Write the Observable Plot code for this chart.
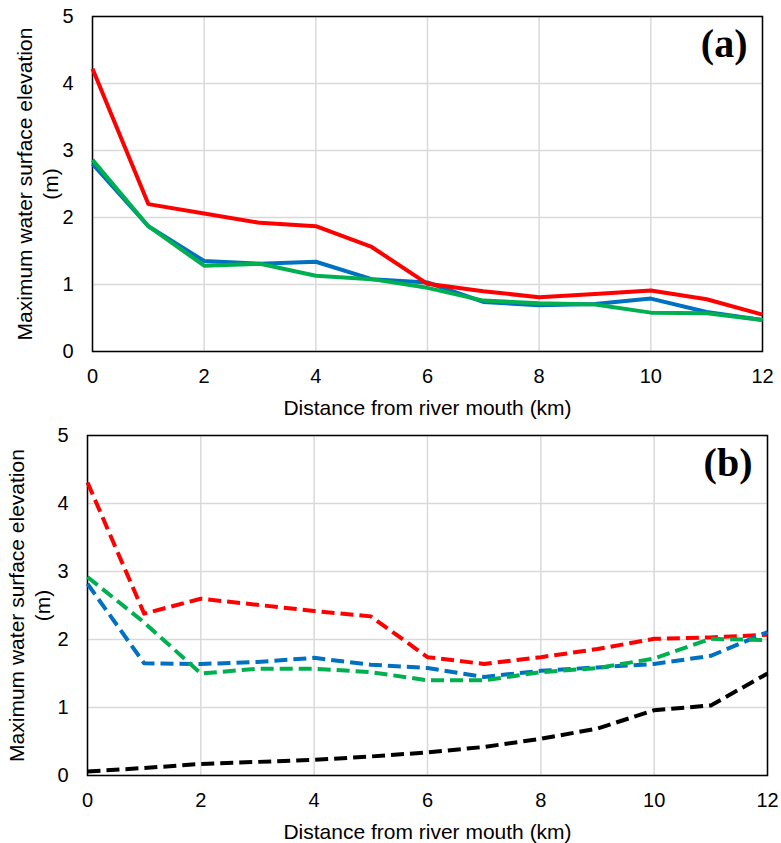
<!DOCTYPE html>
<html><head><meta charset="utf-8">
<script src="https://cdn.jsdelivr.net/npm/d3@7"></script>
<script src="https://cdn.jsdelivr.net/npm/@observablehq/plot@0.6"></script>
<style>body{margin:0;background:#fff} #chart svg{display:block}</style>
</head><body><div id="chart"></div><script>
const distance = [0,1,2,3,4,5,6,7,8,9,10,11,12];
const xTicks = [0,2,4,6,8,10,12];
const yTicks = [0,1,2,3,4,5];
const xTitle = "Distance from river mouth (km)";
const yTitle = "Maximum water surface elevation\n(m)";

// Panel (a) – solid lines
const aRed   = [4.22,2.20,2.06,1.92,1.87,1.56,1.01,0.90,0.81,0.86,0.91,0.78,0.55];
const aBlue  = [2.80,1.87,1.35,1.31,1.34,1.08,1.03,0.74,0.69,0.71,0.79,0.59,0.47];
const aGreen = [2.86,1.87,1.28,1.31,1.13,1.08,0.95,0.76,0.72,0.70,0.58,0.57,0.47];

// Panel (b) – dashed lines
const bRed   = [4.31,2.38,2.60,2.51,2.42,2.34,1.74,1.64,1.74,1.86,2.01,2.03,2.07];
const bBlue  = [2.82,1.65,1.64,1.67,1.73,1.63,1.58,1.45,1.54,1.59,1.64,1.76,2.11];
const bGreen = [2.92,2.25,1.50,1.57,1.57,1.52,1.40,1.40,1.52,1.58,1.72,2.01,1.99];
const bBlack = [0.06,0.11,0.17,0.20,0.23,0.28,0.34,0.42,0.54,0.69,0.96,1.03,1.50];

const seriesNames = ["Series K","Series B","Series G","Series R"];
const seriesColors = ["#000000","#0070C0","#00B050","#FF0000"];

function toRows(list) {
  const rows = [];
  for (const [name, vals] of list) distance.forEach((d,i) => rows.push({series:name, x:d, y:vals[i]}));
  return rows;
}

function panel({rows, height, ml, mr, mt, mb, tag, dash, yTitleDx}) {
  return Plot.plot({
    width: 781, height,
    marginLeft: ml, marginRight: mr, marginTop: mt, marginBottom: mb,
    x: {domain: [0,12]},
    y: {domain: [0,5]},
    color: {type: "ordinal", domain: seriesNames, range: seriesColors},
    style: {fontFamily: "'Liberation Sans', Arial, sans-serif", fontSize: "20px", color: "#000", background: "#fff"},
    marks: [
      Plot.gridX(xTicks, {stroke: "#d9d9d9", strokeOpacity: 1, strokeWidth: 1.5}),
      Plot.gridY(yTicks, {stroke: "#d9d9d9", strokeOpacity: 1, strokeWidth: 1.5}),
      Plot.frame({stroke: "#000", strokeWidth: 1.5}),
      Plot.axisX(xTicks, {tickSize: 0, tickPadding: 17, label: null, fontSize: 20, tickFormat: d3.format("d")}),
      Plot.axisY(yTicks, {tickSize: 0, tickPadding: 19, label: null, fontSize: 20, tickFormat: d3.format("d")}),
      Plot.line(rows, {x: "x", y: "y", z: "series", stroke: "series", strokeWidth: 4,
        strokeDasharray: dash, strokeLinecap: "butt", strokeLinejoin: "round"}),
      Plot.text([tag], {frameAnchor: "top-right", dx: -15, dy: 12, textAnchor: "end", lineAnchor: "top",
        fontFamily: "'Liberation Serif', 'Times New Roman', serif", fontWeight: "bold", fontSize: 40}),
      Plot.text([yTitle], {frameAnchor: "left", rotate: -90, dx: yTitleDx, lineHeight: 1.25, fontSize: 21, textAnchor: "middle"}),
      Plot.text([xTitle], {frameAnchor: "bottom", dy: 57, lineAnchor: "middle", fontSize: 21})
    ]
  });
}

const el = document.getElementById("chart");
el.append(panel({
  rows: toRows([["Series B", aBlue], ["Series G", aGreen], ["Series R", aRed]]),
  height: 420, ml: 92, mr: 19, mt: 16, mb: 69, tag: "(a)", dash: null, yTitleDx: -56
}));
el.append(panel({
  rows: toRows([["Series K", bBlack], ["Series R", bRed], ["Series B", bBlue], ["Series G", bGreen]]),
  height: 423, ml: 87, mr: 14, mt: 15, mb: 68, tag: "(b)", dash: "13,6", yTitleDx: -59
}));
</script></body></html>
